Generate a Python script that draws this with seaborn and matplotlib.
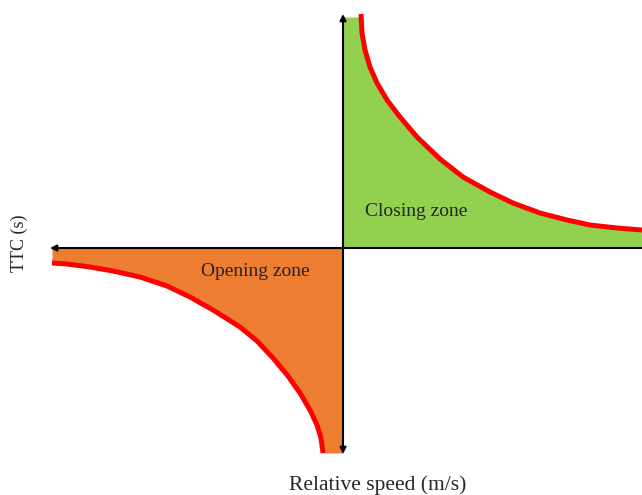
import matplotlib
matplotlib.use("Agg")
import matplotlib.pyplot as plt
import seaborn as sns

sns.set_theme(style="white")
plt.rcParams['font.family'] = ['Liberation Serif', 'DejaVu Serif']

# Schematic curves (arbitrary units, origin at the axes crossing)
closing_speed = [18, 19, 22, 27, 34, 44, 57, 74, 97, 120, 147, 170, 197, 224, 247, 274, 299]
closing_ttc = [234, 215, 198, 181, 165, 148, 131, 111, 89, 71, 56, 45, 35, 28, 23, 20, 18]
opening_speed = [-291, -276, -253, -230, -203, -176, -153, -130, -103, -86, -70, -55, -43, -33, -26, -22, -20]
opening_ttc = [-15, -16, -19, -23, -29, -38, -49, -62, -79, -93, -110, -128, -145, -162, -177, -190, -205]

GREEN = '#92D050'
ORANGE = '#ED7D31'
RED = '#FF0000'

fig = plt.figure(figsize=(6.42, 4.95), dpi=100)
ax = fig.add_axes([0, 0, 1, 1])
ax.set_xlim(-343, 299)
ax.set_ylim(-247, 248)
ax.axis('off')

# filled zones
ax.fill_between([0] + closing_speed, [231] + [min(v, 231) for v in closing_ttc], 0,
                color=GREEN, lw=0, zorder=1)
ax.fill_between(opening_speed + [0], opening_ttc + [opening_ttc[-1]], 0,
                color=ORANGE, lw=0, zorder=1)

# red boundary curves
for xs, ys in [(closing_speed, closing_ttc), (opening_speed, opening_ttc)]:
    sns.lineplot(x=xs, y=ys, ax=ax, color=RED, lw=3.6, sort=False, zorder=3,
                 solid_joinstyle='round', solid_capstyle='butt')

# axes arrows
arrow = dict(arrowstyle='<|-|>', mutation_scale=9, lw=1.5, color='black', shrinkA=0, shrinkB=0)
ax.annotate('', xy=(0, 234), xytext=(0, -206), arrowprops=arrow, zorder=4)
ax.annotate('', xy=(-293, 0), xytext=(299, 0),
            arrowprops=dict(arrow, arrowstyle='-|>'), zorder=4)

ax.text(73, 37, 'Closing zone', fontsize=14, ha='center', va='center', zorder=5)
ax.text(-88, -24, 'Opening zone', fontsize=14, ha='center', va='center', zorder=5)
ax.text(-324, 5, 'TTC (s)', fontsize=13, rotation=90, ha='center', va='center')
ax.text(35, -237, 'Relative speed (m/s)', fontsize=15.5, ha='center', va='center')

plt.savefig('out.png', dpi=100)
plt.close()
